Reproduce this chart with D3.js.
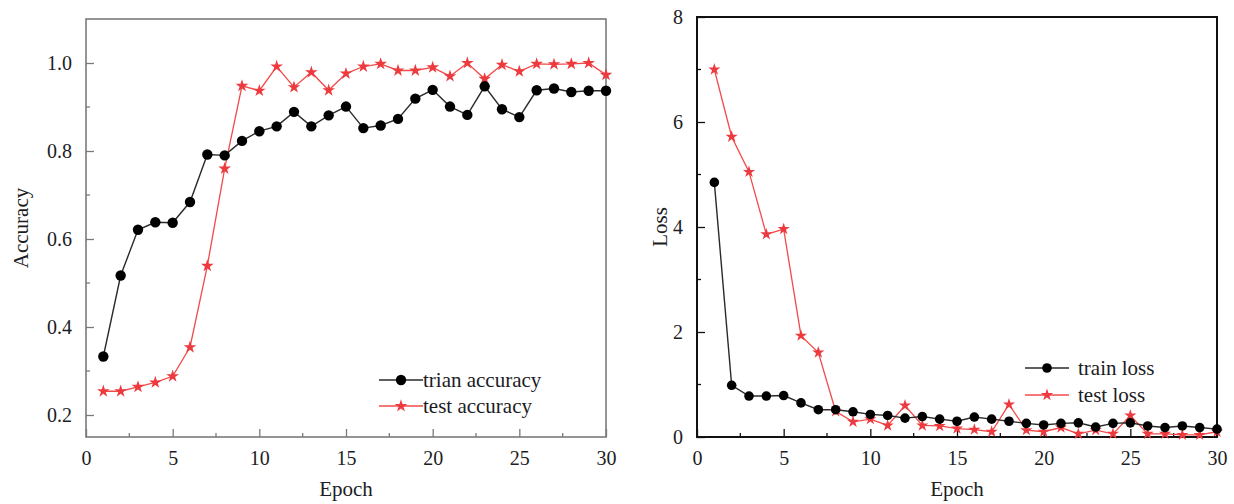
<!DOCTYPE html>
<html>
<head>
<meta charset="utf-8">
<script src="https://cdn.jsdelivr.net/npm/d3@7"></script>
<style>
  body { margin: 0; background: #fff; }
  svg { display: block; }
  text { font-family: "Liberation Serif", "Times New Roman", serif; fill: #1c1c24; }
</style>
</head>
<body>
<svg id="chart" width="1234" height="504"></svg>
<script>
const epochs = d3.range(1, 31);

const trainAccuracy = [0.333, 0.517, 0.621, 0.638, 0.637, 0.684, 0.792, 0.790, 0.823, 0.845,
  0.856, 0.889, 0.856, 0.881, 0.901, 0.852, 0.858, 0.873, 0.919, 0.939,
  0.901, 0.882, 0.947, 0.895, 0.877, 0.938, 0.942, 0.934, 0.937, 0.937];
const testAccuracy = [0.254, 0.254, 0.264, 0.274, 0.288, 0.354, 0.539, 0.760, 0.948, 0.937,
  0.992, 0.945, 0.979, 0.938, 0.976, 0.992, 0.998, 0.983, 0.983, 0.990,
  0.970, 1.000, 0.964, 0.996, 0.981, 0.998, 0.997, 0.998, 1.000, 0.973];

const trainLoss = [4.85, 0.985, 0.78, 0.78, 0.79, 0.65, 0.52, 0.52, 0.48, 0.43,
  0.41, 0.36, 0.39, 0.34, 0.30, 0.38, 0.34, 0.30, 0.26, 0.23,
  0.26, 0.27, 0.19, 0.26, 0.27, 0.21, 0.18, 0.21, 0.18, 0.15];
const testLoss = [7.0, 5.72, 5.05, 3.86, 3.96, 1.93, 1.61, 0.49, 0.29, 0.34,
  0.22, 0.60, 0.22, 0.21, 0.16, 0.14, 0.10, 0.62, 0.13, 0.10,
  0.18, 0.06, 0.13, 0.06, 0.41, 0.06, 0.06, 0.04, 0.04, 0.10];

const xTicks = [0, 5, 10, 15, 20, 25, 30];
const accTicks = [0.2, 0.4, 0.6, 0.8, 1.0];
const lossTicks = [0, 2, 4, 6, 8];

const svg = d3.select('#chart');

function drawPanel(opt) {
  const g = svg.append('g');
  const x = d3.scaleLinear().domain([0, 30]).range([opt.left, opt.right]);
  const y = d3.scaleLinear().domain(opt.yDomain).range([opt.bottom, opt.top]);

  // minor ticks
  const xMinor = d3.range(2.5, 30, 5);
  g.selectAll('.xminor').data(xMinor).join('line')
    .attr('x1', x).attr('x2', x)
    .attr('y1', opt.bottom).attr('y2', opt.bottom - 4)
    .attr('stroke', opt.frame).attr('stroke-width', 1.3);
  g.selectAll('.yminor').data(opt.yMinor).join('line')
    .attr('y1', y).attr('y2', y)
    .attr('x1', opt.left).attr('x2', opt.left + 4)
    .attr('stroke', opt.frame).attr('stroke-width', 1.3);

  const xAxis = g.append('g')
    .attr('transform', `translate(0,${opt.bottom})`)
    .call(d3.axisBottom(x).tickValues(xTicks).tickFormat(d3.format('d')).tickSizeInner(-8).tickSizeOuter(0).tickPadding(14));
  const yAxis = g.append('g')
    .attr('transform', `translate(${opt.left},0)`)
    .call(d3.axisLeft(y).tickValues(opt.yTicks).tickFormat(opt.yFormat).tickSizeInner(-8).tickSizeOuter(0).tickPadding(14));

  [xAxis, yAxis].forEach((a) => {
    a.select('.domain').remove();
    a.selectAll('line').attr('stroke', opt.frame).attr('stroke-width', 1.3);
    a.selectAll('text').attr('font-size', 20).attr('fill', '#1c1c24')
      .style('font-family', '"Liberation Serif", serif');
  });

  g.append('rect')
    .attr('x', opt.left).attr('y', opt.top)
    .attr('width', opt.right - opt.left).attr('height', opt.bottom - opt.top)
    .attr('fill', 'none').attr('stroke', opt.frame).attr('stroke-width', opt.frameWidth);

  const line = d3.line().x((d, i) => x(epochs[i])).y((d) => y(d));

  // test series (red stars)
  g.append('path').datum(opt.test)
    .attr('d', line).attr('fill', 'none')
    .attr('stroke', '#f24a4a').attr('stroke-width', 1.3);
  // train series (black circles)
  g.append('path').datum(opt.train)
    .attr('d', line).attr('fill', 'none')
    .attr('stroke', '#2a2a2a').attr('stroke-width', 1.4);

  const star = d3.symbol().type(d3.symbolStar).size(opt.starSize);
  g.selectAll('.star').data(opt.test).join('path')
    .attr('d', star)
    .attr('transform', (d, i) => `translate(${x(epochs[i])},${y(d)})`)
    .attr('fill', '#ec3a3e');
  g.selectAll('.dot').data(opt.train).join('circle')
    .attr('cx', (d, i) => x(epochs[i])).attr('cy', (d) => y(d))
    .attr('r', opt.dotR).attr('fill', '#000');

  // axis titles
  g.append('text')
    .attr('x', (opt.left + opt.right) / 2).attr('y', 496)
    .attr('text-anchor', 'middle').attr('font-size', 21)
    .text('Epoch');
  g.append('text')
    .attr('transform', `translate(${opt.yTitleX},${(opt.top + opt.bottom) / 2}) rotate(-90)`)
    .attr('text-anchor', 'middle').attr('font-size', 21)
    .text(opt.yTitle);

  // legend
  const lg = g.append('g');
  opt.legend.forEach((item, i) => {
    const ly = opt.legendY + i * opt.legendStep;
    lg.append('line')
      .attr('x1', opt.legendX).attr('x2', opt.legendX + 44)
      .attr('y1', ly).attr('y2', ly)
      .attr('stroke', item.color).attr('stroke-width', 1.3);
    if (item.marker === 'circle') {
      lg.append('circle').attr('cx', opt.legendX + 22).attr('cy', ly).attr('r', opt.dotR).attr('fill', '#000');
    } else {
      lg.append('path').attr('d', star).attr('transform', `translate(${opt.legendX + 22},${ly})`).attr('fill', '#ec3a3e');
    }
    lg.append('text')
      .attr('x', opt.legendTextX).attr('y', ly + 7)
      .attr('font-size', 21)
      .text(item.label);
  });
}

drawPanel({
  left: 86, right: 606, top: 19, bottom: 437,
  yDomain: [0.15, 1.1], yTicks: accTicks, yMinor: [0.3, 0.5, 0.7, 0.9],
  yFormat: d3.format('.1f'),
  frame: '#7a7a7a', frameWidth: 1.6,
  train: trainAccuracy, test: testAccuracy,
  dotR: 5.2, starSize: 50,
  yTitle: 'Accuracy', yTitleX: 28,
  legendX: 379, legendTextX: 423, legendY: 380, legendStep: 26,
  legend: [
    {label: 'trian accuracy', color: '#2a2a2a', marker: 'circle'},
    {label: 'test accuracy', color: '#f24a4a', marker: 'star'},
  ],
});

drawPanel({
  left: 697, right: 1217, top: 17, bottom: 437,
  yDomain: [0, 8], yTicks: lossTicks, yMinor: [1, 3, 5, 7],
  yFormat: d3.format('d'),
  frame: '#111', frameWidth: 2,
  train: trainLoss, test: testLoss,
  dotR: 4.8, starSize: 46,
  yTitle: 'Loss', yTitleX: 667,
  legendX: 1025, legendTextX: 1078, legendY: 368, legendStep: 27,
  legend: [
    {label: 'train loss', color: '#2a2a2a', marker: 'circle'},
    {label: 'test loss', color: '#f24a4a', marker: 'star'},
  ],
});
</script>
</body>
</html>
